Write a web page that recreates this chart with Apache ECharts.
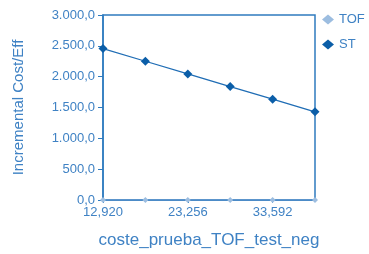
<!DOCTYPE html>
<html>
<head>
<meta charset="utf-8">
<script src="https://cdn.jsdelivr.net/npm/echarts@6/dist/echarts.min.js"></script>
<style>
html, body { margin: 0; padding: 0; background: #fff; }
#chart { width: 369px; height: 254px; }
</style>
</head>
<body>
<div id="chart"></div>
<script>
var categories = ['12,920', '18,088', '23,256', '28,424', '33,592', '38,760'];
var tofData = [0, 0, 0, 0, 0, 0];
var stData = [2455, 2250, 2045, 1840, 1635, 1430];
var yTicks = [0, 500, 1000, 1500, 2000, 2500, 3000];

var axisBlue = '#2f7bbf';
var textBlue = '#3f82c4';

function fmtY(v) {
    // 2500 -> "2.500,0"
    var s = Math.round(v).toString();
    s = s.replace(/\B(?=(\d{3})+(?!\d))/g, '.');
    return s + ',0';
}

var mychart = echarts.init(document.getElementById('chart'));
var option = {
    backgroundColor: '#fff',
    animation: false,
    textStyle: { fontFamily: 'Liberation Sans, Arial, sans-serif' },
    grid: {
        left: 103,
        right: 54,
        top: 15,
        bottom: 50,
        show: true,
        borderColor: axisBlue,
        borderWidth: 1.5
    },
    legend: {
        orient: 'vertical',
        left: 317,
        top: 8,
        itemGap: 12,
        itemWidth: 12,
        itemHeight: 10,
        textStyle: { color: textBlue, fontSize: 13 },
        data: [
            { name: 'TOF', icon: 'diamond', itemStyle: { color: '#9cbde0' } },
            { name: 'ST', icon: 'diamond', itemStyle: { color: '#0b5ea8' } }
        ]
    },
    xAxis: {
        type: 'category',
        data: categories,
        boundaryGap: false,
        name: 'coste_prueba_TOF_test_neg',
        nameLocation: 'middle',
        nameGap: 32,
        nameTextStyle: { color: textBlue, fontSize: 17 },
        axisLine: { lineStyle: { color: axisBlue, width: 1.5 } },
        axisTick: { show: true, alignWithLabel: true, length: 3, lineStyle: { color: axisBlue } },
        axisLabel: { color: textBlue, fontSize: 13, interval: 1, margin: 6 },
        splitLine: { show: false }
    },
    yAxis: {
        type: 'value',
        min: 0,
        max: 3000,
        interval: 500,
        name: 'Incremental Cost/Eff',
        nameLocation: 'middle',
        nameGap: 77,
        nameTextStyle: { color: textBlue, fontSize: 15 },
        axisLine: { show: true, lineStyle: { color: axisBlue, width: 1.5 } },
        axisTick: { show: true, length: 5, lineStyle: { color: axisBlue } },
        axisLabel: {
            color: textBlue,
            fontSize: 13,
            margin: 8,
            formatter: function (v) { return yTicks.indexOf(v) >= 0 ? fmtY(v) : ''; }
        },
        splitLine: { show: false }
    },
    series: [
        {
            name: 'TOF',
            type: 'line',
            data: tofData,
            symbol: 'diamond',
            symbolSize: 6,
            showAllSymbol: true,
            itemStyle: { color: '#9cbde0' },
            lineStyle: { color: '#7fa9d6', width: 1 }
        },
        {
            name: 'ST',
            type: 'line',
            data: stData,
            symbol: 'diamond',
            symbolSize: 9,
            showAllSymbol: true,
            itemStyle: { color: '#0b5ea8' },
            lineStyle: { color: '#1f6db5', width: 1.3 }
        }
    ]
};
mychart.setOption(option);
window.addEventListener('resize', function () {
    mychart.resize();
});
</script>
</body>
</html>
